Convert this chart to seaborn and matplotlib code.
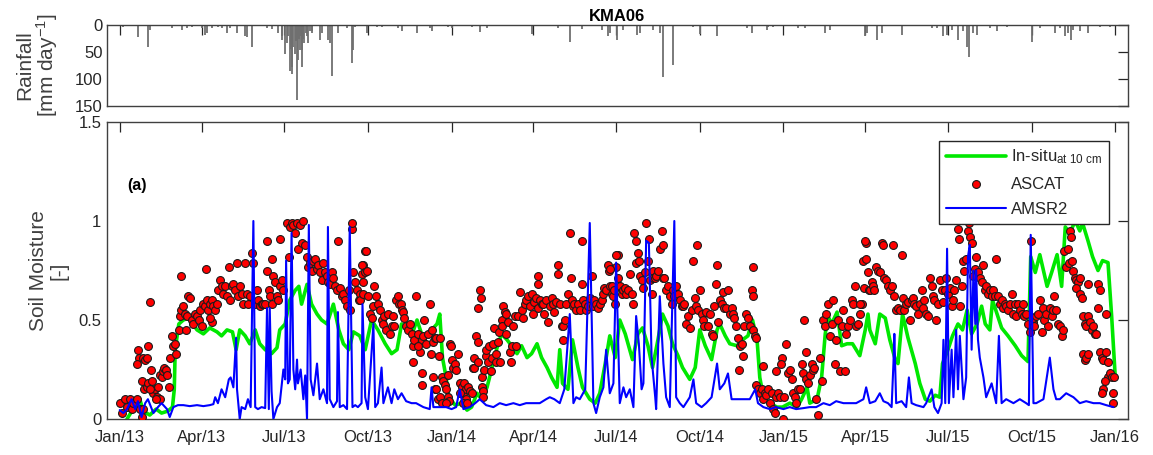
import numpy as np
import pandas as pd
import matplotlib
matplotlib.use("Agg")
import matplotlib.pyplot as plt
import matplotlib.dates as mdates
import seaborn as sns

START = pd.Timestamp("2013-01-01")

# Daily rainfall at the station: (day since 1 Jan 2013, mm/day)
rain_obs = [
    (4, 3), (20, 23), (31, 40), (33, 10), (58, 6), (69, 9), (74, 5), (79, 3), (90, 5), (94, 18),
    (96, 15), (101, 5), (108, 4), (112, 5), (118, 15), (121, 5), (129, 15), (138, 21), (140, 22),
    (146, 40), (162, 5), (168, 7), (174, 15), (178, 21), (179, 27), (182, 53), (184, 34), (185, 20),
    (187, 86), (188, 45), (189, 77), (190, 90), (191, 40), (193, 53), (194, 30), (195, 139), (196, 65),
    (197, 25), (198, 46), (199, 20), (200, 77), (201, 46), (202, 25), (203, 34), (205, 15), (206, 21),
    (207, 34), (209, 12), (211, 15), (212, 12), (220, 28), (222, 15), (229, 28), (231, 34), (234, 94),
    (240, 15), (250, 5), (255, 71), (257, 46), (259, 3), (272, 15), (283, 3), (289, 3), (306, 6),
    (311, 12), (327, 15), (341, 5), (344, 12), (361, 3), (365, 5), (388, 3), (396, 13), (404, 5),
    (454, 16), (482, 5), (495, 31), (509, 8), (531, 10), (537, 21), (539, 15), (547, 28), (553, 10),
    (569, 18), (572, 15), (586, 10), (594, 15), (597, 96), (608, 74), (630, 3), (638, 16), (657, 21),
    (690, 5), (695, 15), (712, 10), (713, 4), (718, 3), (746, 5), (754, 5), (776, 15), (781, 10),
    (820, 21), (822, 15), (833, 28), (838, 15), (860, 18), (893, 5), (899, 5), (905, 21), (910, 18),
    (915, 10), (922, 27), (927, 12), (932, 40), (934, 59), (938, 15), (943, 18), (957, 5), (965, 12),
    (976, 3), (1003, 31), (1012, 5), (1029, 15), (1034, 5), (1040, 21), (1043, 15), (1046, 28),
    (1048, 10), (1056, 12), (1065, 15), (1078, 3), (1089, 3),
]

# In-situ soil moisture at 10 cm (normalised)
insitu_obs = [
    (8, 0.00), (12, 0.03), (18, 0.06), (22, 0.10), (26, 0.04), (33, 0.02), (40, 0.05), (46, 0.03),
    (53, 0.04), (58, 0.06), (60, 0.15), (61, 0.35), (65, 0.48), (70, 0.50), (76, 0.51), (85, 0.45),
    (92, 0.43), (99, 0.46), (107, 0.44), (112, 0.42), (118, 0.45), (124, 0.44), (128, 0.35),
    (132, 0.45), (138, 0.42), (143, 0.38), (149, 0.45), (154, 0.38), (160, 0.35), (167, 0.33),
    (173, 0.36), (176, 0.45), (182, 0.48), (187, 0.60), (193, 0.65), (197, 0.67), (200, 0.58),
    (206, 0.68), (211, 0.58), (217, 0.53), (222, 0.50), (228, 0.48), (235, 0.58), (241, 0.45),
    (246, 0.38), (252, 0.35), (257, 0.44), (264, 0.42), (270, 0.35), (277, 0.50), (284, 0.45),
    (292, 0.38), (299, 0.33), (305, 0.35), (310, 0.48), (316, 0.45), (321, 0.42), (327, 0.50),
    (332, 0.43), (338, 0.42), (343, 0.45), (349, 0.48), (352, 0.53), (355, 0.31), (359, 0.21),
    (362, 0.11), (369, 0.07), (376, 0.08), (382, 0.045), (387, 0.06), (393, 0.13), (398, 0.10),
    (404, 0.16), (409, 0.25), (415, 0.36), (420, 0.43), (426, 0.40), (431, 0.37), (437, 0.33),
    (442, 0.37), (448, 0.31), (453, 0.33), (459, 0.38), (464, 0.31), (470, 0.26), (475, 0.21),
    (481, 0.16), (484, 0.35), (487, 0.18), (493, 0.15), (498, 0.40), (504, 0.26), (509, 0.16),
    (517, 0.10), (523, 0.08), (528, 0.13), (534, 0.28), (539, 0.42), (545, 0.31), (550, 0.50),
    (556, 0.43), (561, 0.35), (564, 0.30), (570, 0.43), (575, 0.46), (581, 0.37), (586, 0.26),
    (592, 0.40), (597, 0.53), (603, 0.47), (608, 0.38), (614, 0.32), (619, 0.26), (627, 0.20),
    (633, 0.26), (638, 0.45), (644, 0.37), (651, 0.30), (657, 0.45), (660, 0.48), (666, 0.42),
    (671, 0.38), (679, 0.37), (685, 0.40), (691, 0.42), (696, 0.50), (701, 0.40), (704, 0.21),
    (708, 0.11), (715, 0.08), (723, 0.06), (729, 0.06), (737, 0.08), (745, 0.06), (750, 0.10),
    (756, 0.16), (759, 0.08), (767, 0.10), (772, 0.21), (776, 0.43), (779, 0.52), (783, 0.48),
    (789, 0.54), (794, 0.37), (800, 0.38), (806, 0.38), (814, 0.32), (820, 0.45), (823, 0.53),
    (825, 0.45), (831, 0.38), (836, 0.53), (842, 0.51), (847, 0.40), (853, 0.30), (856, 0.28),
    (861, 0.53), (867, 0.41), (875, 0.28), (880, 0.18), (886, 0.10), (891, 0.09), (897, 0.12),
    (902, 0.11), (905, 0.28), (911, 0.35), (916, 0.42), (922, 0.48), (927, 0.45), (932, 0.55),
    (937, 0.43), (943, 0.48), (948, 0.57), (952, 0.48), (957, 0.45), (960, 0.60), (965, 0.53),
    (970, 0.46), (977, 0.42), (985, 0.37), (992, 0.32), (999, 0.29), (1002, 0.82), (1007, 0.74),
    (1012, 0.83), (1020, 0.67), (1025, 0.74), (1031, 0.83), (1036, 0.67), (1040, 0.97),
    (1045, 0.94), (1051, 1.00), (1056, 0.95), (1059, 0.99), (1065, 0.90), (1070, 0.82),
    (1076, 0.75), (1081, 0.80), (1087, 0.79), (1091, 0.52), (1095, 0.21),
]

# AMSR2 soil moisture retrievals (normalised)
amsr2_obs = [
    (0, 0.045), (4, 0.03), (8, 0.05), (13, 0.10), (17, 0.05), (20, 0.09), (24, 0.01), (28, 0.08),
    (31, 0.10), (37, 0.03), (42, 0.06), (46, 0.08), (52, 0.05), (55, 0.01), (59, 0.06), (64, 0.07),
    (70, 0.07), (77, 0.065), (85, 0.07), (92, 0.065), (99, 0.07), (103, 0.075), (105, 0.11),
    (108, 0.08), (112, 0.15), (116, 0.11), (120, 0.20), (122, 0.21), (125, 0.16), (128, 0.41),
    (129, 0.15), (132, 0.0), (134, 0.06), (138, 0.05), (141, 0.10), (144, 0.06), (147, 1.0),
    (149, 0.06), (152, 0.05), (156, 0.06), (160, 0.055), (162, 0.56), (164, 0.05), (165, 0.56),
    (167, 0.14), (169, 0.0), (173, 0.06), (176, 0.08), (180, 0.25), (182, 0.20), (183, 0.80),
    (185, 0.18), (187, 0.20), (189, 0.94), (191, 0.25), (193, 0.15), (195, 0.30), (196, 0.18),
    (199, 0.25), (202, 0.10), (204, 0.22), (206, 0.00), (208, 0.98), (210, 0.20), (213, 0.12),
    (217, 0.28), (220, 0.10), (224, 0.15), (228, 0.08), (229, 0.97), (231, 0.10), (235, 0.06),
    (239, 0.09), (240, 0.54), (242, 0.06), (246, 0.07), (250, 0.05), (253, 0.97), (256, 0.06),
    (259, 0.07), (262, 0.06), (266, 0.08), (267, 0.58), (270, 0.11), (273, 0.05), (279, 0.48),
    (281, 0.06), (284, 0.08), (288, 0.26), (290, 0.08), (295, 0.16), (299, 0.08), (302, 0.15),
    (306, 0.10), (310, 0.13), (315, 0.09), (321, 0.08), (326, 0.08), (334, 0.06), (341, 0.05),
    (343, 0.16), (345, 0.06), (352, 0.06), (359, 0.06), (365, 0.05), (370, 0.06), (374, 0.15),
    (378, 0.05), (385, 0.06), (391, 0.08), (396, 0.10), (403, 0.07), (411, 0.06), (418, 0.08),
    (425, 0.07), (433, 0.08), (440, 0.07), (447, 0.08), (455, 0.08), (462, 0.08), (469, 0.10),
    (473, 0.11), (478, 0.10), (484, 0.08), (489, 0.15), (495, 0.53), (499, 0.08), (502, 0.11),
    (506, 0.10), (512, 0.15), (517, 0.99), (521, 0.08), (524, 0.03), (528, 0.11), (532, 0.16),
    (535, 0.35), (539, 0.13), (543, 0.18), (546, 0.79), (550, 0.08), (554, 0.16), (557, 0.11),
    (561, 0.15), (565, 0.06), (568, 0.52), (571, 0.38), (574, 0.15), (576, 0.18), (579, 0.90),
    (582, 0.89), (585, 0.31), (589, 0.11), (590, 0.05), (594, 0.62), (598, 0.28), (601, 0.11),
    (605, 0.06), (610, 1.00), (612, 0.11), (616, 0.08), (620, 0.06), (627, 0.11), (631, 0.20),
    (634, 0.08), (640, 0.06), (645, 0.08), (651, 0.11), (657, 0.28), (660, 0.15), (665, 0.18),
    (669, 0.23), (673, 0.10), (678, 0.10), (686, 0.10), (693, 0.10), (699, 0.15), (702, 0.08),
    (708, 0.06), (715, 0.05), (722, 0.06), (730, 0.05), (737, 0.06), (744, 0.05), (752, 0.055),
    (759, 0.06), (766, 0.06), (774, 0.08), (781, 0.07), (788, 0.09), (796, 0.08), (803, 0.08),
    (810, 0.08), (818, 0.10), (821, 0.16), (825, 0.08), (831, 0.09), (836, 0.13), (840, 0.09),
    (845, 0.08), (849, 0.06), (851, 0.28), (852, 0.43), (854, 0.08), (860, 0.09), (865, 0.06),
    (868, 0.21), (871, 0.08), (876, 0.07), (884, 0.06), (887, 0.08), (893, 0.15), (896, 0.06),
    (900, 0.03), (904, 0.08), (906, 0.40), (908, 0.08), (910, 0.86), (912, 0.08), (915, 0.35),
    (917, 0.11), (920, 0.45), (922, 0.15), (924, 0.42), (928, 0.10), (931, 0.21), (933, 0.82),
    (935, 0.88), (937, 0.35), (939, 0.75), (941, 0.48), (942, 0.75), (944, 0.40), (946, 0.31),
    (950, 0.21), (953, 0.11), (959, 0.18), (964, 0.08), (967, 0.42), (970, 0.08), (975, 0.10),
    (983, 0.08), (990, 0.10), (997, 0.08), (1000, 0.07), (1002, 0.93), (1005, 0.08), (1008, 0.08),
    (1016, 0.10), (1023, 0.31), (1027, 0.15), (1030, 0.10), (1034, 0.10), (1041, 0.13),
    (1049, 0.11), (1056, 0.08), (1063, 0.09), (1071, 0.08), (1078, 0.08), (1085, 0.07), (1093, 0.06),
]

# ASCAT soil moisture retrievals (normalised)
ascat_obs = [
    (0, 0.08), (2, 0.03), (6, 0.10), (8, 0.06), (11, 0.10), (13, 0.05), (15, 0.08), (19, 0.10),
    (22, 0.05), (24, 0.01), (26, 0.05), (20, 0.35), (21, 0.31), (19, 0.28), (26, 0.31), (28, 0.30),
    (31, 0.37), (30, 0.31), (33, 0.59), (34, 0.25), (24, 0.19), (27, 0.15), (30, 0.16), (31, 0.18),
    (35, 0.19), (37, 0.13), (39, 0.15), (41, 0.11), (42, 0.16), (44, 0.22), (46, 0.21), (48, 0.24),
    (49, 0.26), (51, 0.25), (52, 0.22), (54, 0.16), (44, 0.10), (40, 0.10), (33, 0.15), (55, 0.31),
    (57, 0.42), (59, 0.37), (61, 0.38), (62, 0.33), (65, 0.45), (66, 0.52), (67, 0.55), (70, 0.57),
    (72, 0.53), (74, 0.52), (73, 0.45), (75, 0.62), (77, 0.61), (67, 0.72), (79, 0.50), (81, 0.48),
    (83, 0.53), (85, 0.52), (87, 0.50), (88, 0.55), (90, 0.47), (92, 0.58), (94, 0.57), (96, 0.60),
    (95, 0.76), (97, 0.55), (99, 0.58), (101, 0.60), (103, 0.57), (105, 0.55), (102, 0.49),
    (99, 0.51), (107, 0.58), (108, 0.65), (110, 0.70), (112, 0.67), (114, 0.63), (116, 0.67),
    (118, 0.62), (120, 0.77), (121, 0.60), (123, 0.67), (125, 0.68), (127, 0.65), (129, 0.79),
    (130, 0.62), (132, 0.67), (134, 0.63), (136, 0.58), (138, 0.79), (140, 0.63), (141, 0.58),
    (143, 0.62), (145, 0.84), (147, 0.79), (149, 0.58), (151, 0.65), (152, 0.60), (154, 0.57),
    (156, 0.58), (158, 0.58), (160, 0.58), (162, 0.75), (162, 0.90), (164, 0.65), (165, 0.62),
    (167, 0.58), (168, 0.81), (169, 0.72), (171, 0.69), (173, 0.62), (174, 0.60), (176, 0.67),
    (176, 0.91), (178, 0.70), (180, 0.65), (184, 0.99), (186, 0.82), (187, 0.97), (189, 0.99),
    (191, 0.98), (193, 0.94), (195, 0.99), (198, 0.98), (202, 1.00), (196, 0.86), (200, 0.89),
    (204, 0.88), (206, 0.82), (207, 0.77), (209, 0.79), (211, 0.75), (213, 0.80), (215, 0.81),
    (217, 0.76), (218, 0.78), (220, 0.74), (222, 0.70), (224, 0.79), (226, 0.74), (228, 0.72),
    (229, 0.69), (231, 0.68), (233, 0.74), (235, 0.71), (237, 0.67), (239, 0.65), (240, 0.90),
    (242, 0.66), (244, 0.62), (246, 0.63), (248, 0.60), (250, 0.57), (252, 0.65), (253, 0.55),
    (255, 0.96), (256, 0.99), (257, 0.74), (259, 0.69), (261, 0.65), (263, 0.60), (264, 0.63),
    (266, 0.73), (268, 0.78), (270, 0.85),
    (266, 0.78), (271, 0.85), (270, 0.74), (272, 0.75), (268, 0.69), (264, 0.60), (268, 0.63),
    (273, 0.62), (275, 0.53), (277, 0.51), (279, 0.57), (280, 0.67), (282, 0.62), (284, 0.58),
    (286, 0.55), (288, 0.50), (290, 0.48), (291, 0.52), (293, 0.45), (295, 0.53), (297, 0.43),
    (299, 0.47), (301, 0.52), (302, 0.47), (304, 0.60), (306, 0.62), (307, 0.58), (309, 0.58),
    (310, 0.55), (312, 0.54), (313, 0.51), (315, 0.47), (317, 0.45), (319, 0.48), (321, 0.43),
    (323, 0.37), (324, 0.40), (326, 0.62), (328, 0.43), (330, 0.34), (332, 0.40), (334, 0.42),
    (335, 0.50), (337, 0.38), (339, 0.43), (341, 0.58), (342, 0.33), (343, 0.45), (345, 0.39),
    (347, 0.41), (348, 0.41), (351, 0.32), (352, 0.41), (323, 0.29), (328, 0.37), (332, 0.23),
    (332, 0.17), (345, 0.21), (347, 0.15), (348, 0.15), (350, 0.10), (352, 0.11), (354, 0.21),
    (356, 0.19), (358, 0.17), (359, 0.15), (361, 0.11), (362, 0.09), (363, 0.38), (364, 0.37),
    (365, 0.30), (367, 0.26), (369, 0.28), (370, 0.25), (372, 0.33), (354, 0.08), (359, 0.08),
    (361, 0.22), (374, 0.18), (376, 0.16), (378, 0.13), (379, 0.18), (381, 0.15), (383, 0.16),
    (385, 0.14), (387, 0.13), (381, 0.10), (378, 0.08), (374, 0.13), (382, 0.08), (389, 0.26),
    (390, 0.31), (392, 0.42), (394, 0.39), (390, 0.26), (394, 0.29), (396, 0.65), (397, 0.61),
    (394, 0.56), (398, 0.21), (399, 0.16), (400, 0.14), (400, 0.11), (401, 0.25), (403, 0.32),
    (403, 0.35), (405, 0.29), (406, 0.37), (408, 0.24), (409, 0.31), (411, 0.38), (412, 0.46),
    (414, 0.29), (414, 0.33), (416, 0.39), (417, 0.44), (418, 0.29), (420, 0.50), (421, 0.47),
    (422, 0.57), (424, 0.54), (425, 0.53), (425, 0.43), (427, 0.49), (429, 0.34), (430, 0.29),
    (431, 0.37), (433, 0.47), (435, 0.52), (436, 0.37), (438, 0.52), (440, 0.64), (442, 0.55),
    (444, 0.51), (446, 0.58), (447, 0.60), (449, 0.62), (451, 0.57), (453, 0.63), (455, 0.53),
    (456, 0.59), (458, 0.61), (460, 0.56), (460, 0.72), (460, 0.68), (462, 0.60), (464, 0.58),
    (466, 0.58), (467, 0.53), (469, 0.60), (471, 0.49), (473, 0.57), (475, 0.61), (477, 0.58),
    (478, 0.54), (480, 0.59), (482, 0.78), (482, 0.73), (484, 0.58), (486, 0.47), (488, 0.47),
    (488, 0.40), (490, 0.50), (491, 0.58), (493, 0.63), (495, 0.94), (496, 0.71), (497, 0.60),
    (499, 0.57), (500, 0.58), (502, 0.55), (504, 0.58), (506, 0.55), (508, 0.90), (509, 0.68),
    (510, 0.60), (512, 0.58), (513, 0.55), (515, 0.57), (517, 0.61), (519, 0.72), (521, 0.57),
    (522, 0.60), (524, 0.58), (526, 0.56), (528, 0.58), (530, 0.60), (532, 0.63), (533, 0.66),
    (535, 0.65), (537, 0.78), (538, 0.75), (539, 0.67), (541, 0.63), (543, 0.62), (545, 0.58),
    (546, 0.77), (548, 0.83),
    (539, 0.76), (541, 0.67), (544, 0.65), (546, 0.83), (548, 0.71), (550, 0.67), (552, 0.63),
    (554, 0.65), (556, 0.66), (557, 0.63), (559, 0.65), (561, 0.73), (563, 0.63), (565, 0.58),
    (566, 0.94), (568, 0.90), (568, 0.79), (570, 0.84), (571, 0.80), (572, 0.72), (574, 0.70),
    (576, 0.66), (578, 0.74), (579, 0.99), (581, 0.80), (582, 0.91), (583, 0.70), (585, 0.63),
    (586, 0.75), (587, 0.71), (589, 0.71), (590, 0.72), (592, 0.75), (594, 0.86), (596, 0.95),
    (597, 0.88), (598, 0.71), (599, 0.71), (601, 0.65), (603, 0.67), (605, 0.62), (607, 0.58),
    (609, 0.65), (610, 0.62), (612, 0.67), (614, 0.63), (616, 0.60), (618, 0.57), (620, 0.57),
    (621, 0.58), (623, 0.48), (625, 0.52), (627, 0.46), (629, 0.55), (631, 0.80), (633, 0.61),
    (634, 0.57), (635, 0.88), (636, 0.55), (638, 0.65), (640, 0.53), (642, 0.50), (643, 0.47),
    (645, 0.54), (647, 0.47), (649, 0.53), (651, 0.43), (653, 0.42), (654, 0.57), (656, 0.68),
    (657, 0.78), (658, 0.49), (660, 0.60), (662, 0.58), (664, 0.64), (665, 0.56), (667, 0.56),
    (669, 0.65), (671, 0.53), (673, 0.56), (675, 0.53), (676, 0.51), (678, 0.47), (680, 0.41),
    (681, 0.25), (682, 0.37), (684, 0.38), (686, 0.32), (687, 0.47), (689, 0.53), (691, 0.51),
    (693, 0.47), (695, 0.65), (696, 0.62), (697, 0.45), (697, 0.77), (699, 0.42), (700, 0.41),
    (700, 0.17), (702, 0.15), (704, 0.13), (706, 0.15), (708, 0.27), (708, 0.10), (710, 0.13),
    (711, 0.12), (713, 0.15), (715, 0.08), (717, 0.13), (719, 0.05), (721, 0.03), (722, 0.11),
    (724, 0.13), (726, 0.11), (728, 0.31), (730, 0.00), (722, 0.24), (727, 0.28), (731, 0.11),
    (733, 0.38), (735, 0.23), (737, 0.25), (739, 0.20), (741, 0.13), (743, 0.11), (744, 0.08),
    (746, 0.15), (748, 0.15), (750, 0.28), (752, 0.23), (753, 0.50), (755, 0.34), (755, 0.20),
    (757, 0.18), (759, 0.22), (761, 0.28), (763, 0.25), (764, 0.26), (766, 0.10), (768, 0.02),
    (770, 0.31), (772, 0.19), (774, 0.50), (776, 0.47), (777, 0.53), (779, 0.58), (781, 0.42),
    (783, 0.48), (785, 0.60), (787, 0.28), (788, 0.40), (790, 0.50), (792, 0.24), (794, 0.47),
    (796, 0.55), (798, 0.24), (799, 0.43), (801, 0.47), (803, 0.50), (805, 0.60), (807, 0.58),
    (809, 0.67), (810, 0.47), (812, 0.48), (814, 0.53), (816, 0.58), (818, 0.80), (819, 0.66),
    (821, 0.89), (821, 0.81), (823, 0.74), (824, 0.65),
    (814, 0.58), (820, 0.90), (825, 0.65), (827, 0.69), (829, 0.67), (830, 0.65), (832, 0.77),
    (834, 0.75), (836, 0.74), (838, 0.89), (840, 0.88), (841, 0.71), (843, 0.70), (845, 0.67),
    (847, 0.65), (849, 0.67), (851, 0.88), (852, 0.62), (854, 0.55), (856, 0.56), (858, 0.55),
    (860, 0.83), (862, 0.61), (863, 0.55), (865, 0.58), (867, 0.59), (869, 0.50), (871, 0.60),
    (873, 0.61), (874, 0.58), (876, 0.57), (878, 0.53), (880, 0.58), (882, 0.65), (884, 0.56),
    (885, 0.60), (887, 0.53), (889, 0.52), (891, 0.71), (893, 0.67), (895, 0.62), (896, 0.60),
    (898, 0.50), (900, 0.58), (902, 0.70), (904, 0.65), (906, 0.59), (908, 0.65), (909, 0.71),
    (911, 0.63), (913, 0.66), (915, 0.57), (917, 0.60), (918, 0.65), (920, 0.70), (922, 0.96),
    (923, 0.91), (924, 0.57), (926, 0.67), (928, 0.80), (929, 0.75), (931, 0.81), (933, 0.95),
    (934, 0.99), (935, 0.92), (937, 0.89), (939, 0.72), (941, 0.76), (942, 0.82), (944, 0.74),
    (946, 0.71), (948, 0.69), (950, 0.78), (952, 0.65), (953, 0.67), (955, 0.63), (957, 0.65),
    (959, 0.62), (961, 0.65), (963, 0.62), (964, 0.81), (966, 0.62), (968, 0.58), (970, 0.60),
    (972, 0.56), (974, 0.58), (975, 0.57), (977, 0.55), (979, 0.58), (981, 0.63), (983, 0.53),
    (985, 0.58), (986, 0.52), (988, 0.58), (990, 0.55), (992, 0.53), (994, 0.58), (995, 0.52),
    (997, 0.53), (999, 0.48), (1001, 0.44), (1002, 0.90), (1004, 0.49), (1005, 0.51), (1006, 0.47),
    (1008, 0.52), (1010, 0.53), (1012, 0.60), (1014, 0.44), (1016, 0.56), (1017, 0.50),
    (1019, 0.53), (1021, 0.47), (1023, 0.56), (1025, 0.52), (1027, 0.55), (1028, 0.62),
    (1030, 0.55), (1032, 0.48), (1034, 0.47), (1036, 0.42), (1038, 0.45), (1039, 0.85),
    (1041, 0.77), (1043, 0.86), (1045, 0.95), (1046, 0.92), (1044, 0.79), (1047, 0.80),
    (1049, 0.75), (1051, 0.71), (1052, 0.70), (1054, 0.69), (1056, 0.71), (1052, 0.66),
    (1056, 0.63), (1058, 0.61), (1060, 0.52), (1062, 0.48), (1063, 0.47), (1065, 0.52),
    (1065, 0.68), (1067, 0.49), (1069, 0.45), (1071, 0.47), (1073, 0.43), (1074, 0.43),
    (1076, 0.56), (1076, 0.68), (1078, 0.65), (1060, 0.33), (1062, 0.30), (1063, 0.31),
    (1065, 0.33), (1078, 0.34), (1080, 0.31), (1082, 0.30), (1085, 0.34), (1087, 0.29),
    (1085, 0.53), (1087, 0.21), (1089, 0.23), (1084, 0.19), (1082, 0.15), (1080, 0.13),
    (1091, 0.21), (1093, 0.13), (1093, 0.08), (1094, 0.21),
]

LEGEND_INSITU = r"In-situ$_{\mathrm{at\ 10\ cm}}$"


def to_frame(pairs, col):
    df = pd.DataFrame(pairs, columns=["day", col])
    df["date"] = START + pd.to_timedelta(df["day"], unit="D")
    return df


rain = to_frame(rain_obs, "mm")
insitu = to_frame(insitu_obs, "sm")
amsr2 = to_frame(amsr2_obs, "sm")
ascat = to_frame(ascat_obs, "sm")

sns.set_theme(style="white")
INK = "#262626"
plt.rcParams.update({
    "font.family": ["Liberation Sans", "DejaVu Sans"],
    "mathtext.fontset": "custom",
    "mathtext.rm": "Liberation Sans",
    "mathtext.it": "Liberation Sans:italic",
    "mathtext.bf": "Liberation Sans:bold",
    "text.color": INK,
    "axes.labelcolor": "#404040",
    "xtick.color": INK,
    "ytick.color": INK,
    "axes.edgecolor": "#404040",
    "axes.linewidth": 1.0,
})

W, H = 1153, 455
fig = plt.figure(figsize=(W / 100, H / 100), dpi=100)
left, width = 107 / W, 1021 / W
ax_r = fig.add_axes([left, 1 - 106 / H, width, 81 / H])
ax = fig.add_axes([left, 1 - 419 / H, width, 297 / H])

x0 = START - pd.Timedelta(days=14)
x1 = START + pd.Timedelta(days=1109)
quarters = mdates.MonthLocator(bymonth=[1, 4, 7, 10])

# Rainfall (inverted bars)
ax_r.vlines(rain["date"], 0, rain["mm"], color="#6f6f6f", lw=1.3)
ax_r.set_ylim(150, 0)
ax_r.set_yticks([0, 50, 100, 150])
ax_r.set_xlim(x0, x1)
ax_r.xaxis.set_major_locator(quarters)
ax_r.tick_params(direction="in", length=7, width=0.9, top=True, right=True,
                 labelbottom=False, labelsize=12, pad=3)
ax_r.set_ylabel("Rainfall\n[mm day$^{-1}$]", fontsize=15, linespacing=1.0)
ax_r.yaxis.set_label_coords(-0.046, 0.5)
ax_r.set_title("KMA06", fontweight="bold", fontsize=12, pad=3, color="black")

# Soil moisture
sns.lineplot(data=insitu, x="date", y="sm", ax=ax, color="#00e800", lw=2.6,
             estimator=None, label=LEGEND_INSITU, zorder=2)
sns.scatterplot(data=ascat, x="date", y="sm", ax=ax, color="#ff0000", edgecolor="#1a1a1a",
                linewidth=0.8, s=32, label="ASCAT", zorder=3)
sns.lineplot(data=amsr2, x="date", y="sm", ax=ax, color="#0000ff", lw=1.5,
             estimator=None, label="AMSR2", zorder=4)

ax.set_xlim(x0, x1)
ax.set_ylim(0, 1.5)
ax.set_yticks([0, 0.5, 1, 1.5])
ax.set_yticklabels(["0", "0.5", "1", "1.5"])
ax.xaxis.set_major_locator(quarters)
ax.xaxis.set_major_formatter(mdates.DateFormatter("%b/%y"))
ax.tick_params(direction="in", length=7, width=0.9, top=True, right=True, labelsize=12, pad=4)
ax.tick_params(axis="x", pad=8)
ax.set_xlabel("")
ax.set_ylabel("Soil Moisture\n[-]", fontsize=15, linespacing=1.1)
ax.yaxis.set_label_coords(-0.038, 0.5)

ax.text(0.029, 0.785, "(a)", transform=ax.transAxes, fontsize=11.5, fontweight="bold",
        ha="center", va="center", color="black")

leg = ax.legend(loc="upper right", bbox_to_anchor=(0.981, 0.936), borderaxespad=0,
                frameon=True, fancybox=False, framealpha=1, edgecolor=INK, fontsize=12,
                handlelength=3.6, labelspacing=0.62, borderpad=0.4, handletextpad=0.3)
leg.get_frame().set_linewidth(1.0)

fig.savefig("out.png", dpi=100)
